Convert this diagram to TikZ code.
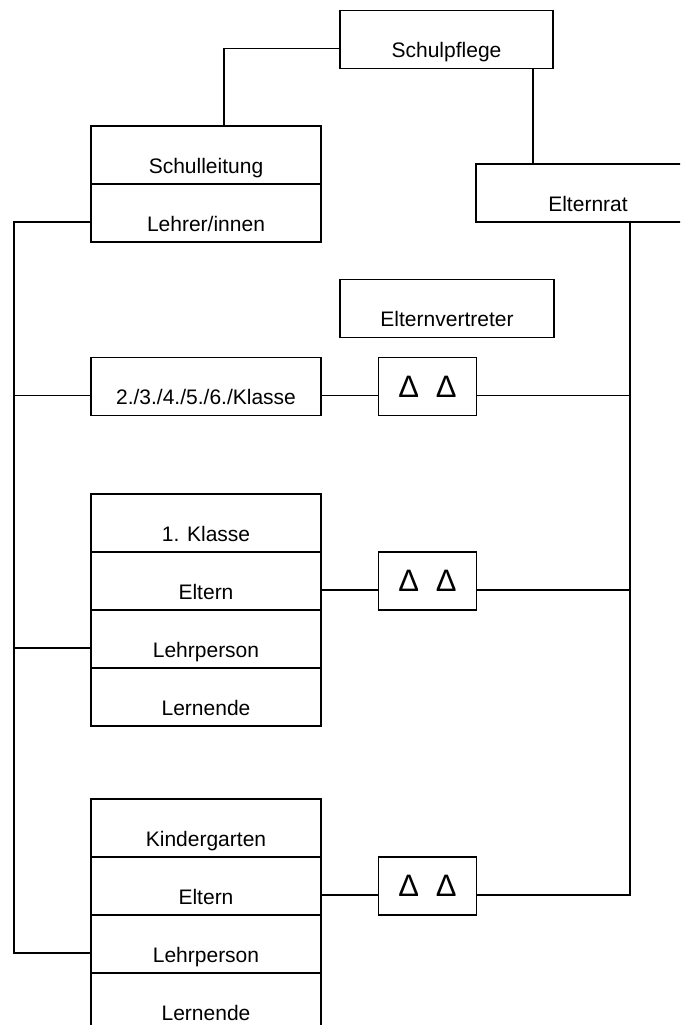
\documentclass[tikz,border=0pt]{standalone}
\usepackage{fontspec}
\setmainfont{Liberation Sans}
\usetikzlibrary{positioning}

\begin{document}
\begin{tikzpicture}[x=1pt, y=-1pt, line width=1.7pt,
		kasten/.style={draw, rectangle, outer sep=0pt, inner sep=0pt, minimum height=58pt,
			font=\fontsize{21}{25}\selectfont, text height=36pt, text depth=0pt},
		breit/.style={kasten, minimum width=230pt},
		dreieck/.style={draw, rectangle, outer sep=0pt, minimum width=98pt, minimum height=58pt,
			font=\fontsize{31}{33}\selectfont}]
		\useasboundingbox (0,0) rectangle (680,1025);
		\clip (0,0) rectangle (680,1025);
		% oben
		\node[kasten, minimum width=213pt] (schulpflege) at (446.5,39.5) {Schulpflege};
		\node[breit] (schulleitung) at (206,155) {Schulleitung};
		\node[breit, below=0pt of schulleitung] (lehrer) {Lehrer/innen};
		\node[kasten, minimum width=224pt] (elternrat) at (588,193) {Elternrat};
		\node[kasten, minimum width=214pt] (vertreter) at (447,308.5) {Elternvertreter};
		% 2.-6. Klasse
		\node[breit] (klassen) at (206,386.5) {2./3./4./5./6./Klasse};
		\node[dreieck] (dreieckA) at (427.5,386.5) {Δ\hspace{17pt}Δ};
		% 1. Klasse
		\node[breit] (klasse) at (206,523) {1. Klasse};
		\node[breit, below=0pt of klasse] (elternB) {Eltern};
		\node[breit, below=0pt of elternB] (lehrpersonB) {Lehrperson};
		\node[breit, below=0pt of lehrpersonB] (lernendeB) {Lernende};
		\node[dreieck] (dreieckB) at (427.5,581) {Δ\hspace{17pt}Δ};
		% Kindergarten
		\node[breit] (kindergarten) at (206,828) {Kindergarten};
		\node[breit, below=0pt of kindergarten] (elternC) {Eltern};
		\node[breit, below=0pt of elternC] (lehrpersonC) {Lehrperson};
		\node[breit, below=0pt of lehrpersonC] (lernendeC) {Lernende};
		\node[dreieck] (dreieckC) at (427.5,886) {Δ\hspace{17pt}Δ};
		% Verbindungen
		\coordinate (sp) at ([xshift=86.5pt]schulpflege.south);
		\coordinate (links) at (14,600);
		\coordinate (rechts) at (630,600);
		\draw ([yshift=-9pt]schulpflege.west) -| ([xshift=18pt]schulleitung.north);
		\draw (sp) -- (sp |- elternrat.north);
		\draw ([yshift=-9pt]lehrer.west) -| (links) |- ([yshift=-9pt]lehrpersonC.west);
		\draw ([yshift=-9pt]klassen.west) -| (links);
		\draw ([yshift=-9pt]lehrpersonB.west) -| (links);
		\draw (elternrat.south -| rechts) -- (rechts) |- ([yshift=-9pt]dreieckC.east);
		\draw ([yshift=-9pt]dreieckA.east) -| (rechts);
		\draw ([yshift=-9pt]dreieckB.east) -| (rechts);
		\draw ([yshift=-9pt]klassen.east) -- ([yshift=-9pt]dreieckA.west);
		\draw ([yshift=-9pt]elternB.east) -- ([yshift=-9pt]dreieckB.west);
		\draw ([yshift=-9pt]elternC.east) -- ([yshift=-9pt]dreieckC.west);
	\end{tikzpicture}
\end{document}
